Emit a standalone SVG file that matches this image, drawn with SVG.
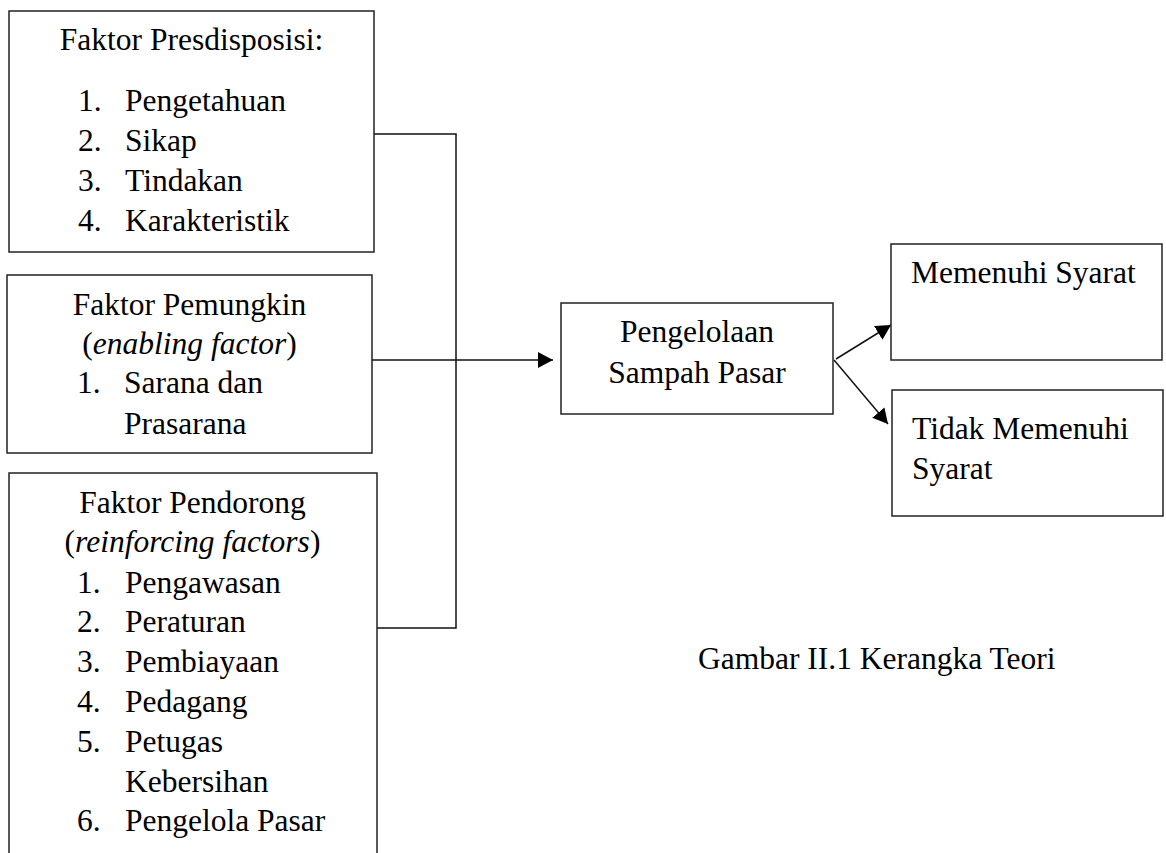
<svg xmlns="http://www.w3.org/2000/svg" width="1166" height="853" viewBox="0 0 1166 853">
<style>
  .box { fill: #ffffff; stroke: #222222; stroke-width: 1.5; }
  .t { font-family: "Liberation Serif", "Times New Roman", serif; font-size: 31.5px; fill: #000000; }
  .c { text-anchor: middle; }
  .i { font-style: italic; }
  .ln { fill: none; stroke: #111111; stroke-width: 1.5; }
</style>
<defs>
  <marker id="arr" markerUnits="userSpaceOnUse" markerWidth="16" markerHeight="16" refX="15" refY="8" orient="auto">
    <path d="M0,0 L15,8 L0,16 z" fill="#000000"/>
  </marker>
</defs>
<rect width="1166" height="853" fill="#ffffff"/>

<g id="connectors">
  <path class="ln" d="M374,134 H456 V628 H377"/>
  <path class="ln" d="M372,360 H553" marker-end="url(#arr)"/>
  <path class="ln" d="M836,359 L891,325" marker-end="url(#arr)"/>
  <path class="ln" d="M834,360 L888,424" marker-end="url(#arr)"/>
</g>

<g id="predisposisi">
  <rect class="box" x="9" y="11" width="365" height="241"/>
  <text class="t c" x="191.5" y="50">Faktor Presdisposisi:</text>
  <text class="t" x="78" y="111">1.</text><text class="t" x="125" y="111">Pengetahuan</text>
  <text class="t" x="78" y="151">2.</text><text class="t" x="125" y="151">Sikap</text>
  <text class="t" x="78" y="191">3.</text><text class="t" x="125" y="191">Tindakan</text>
  <text class="t" x="78" y="231">4.</text><text class="t" x="125" y="231">Karakteristik</text>
</g>

<g id="pemungkin">
  <rect class="box" x="7" y="275" width="365" height="178"/>
  <text class="t c" x="189.5" y="315">Faktor Pemungkin</text>
  <text class="t c" x="189.5" y="354">(<tspan class="i">enabling factor</tspan>)</text>
  <text class="t" x="77" y="393">1.</text><text class="t" x="124" y="393">Sarana dan</text>
  <text class="t" x="124" y="434">Prasarana</text>
</g>

<g id="pendorong">
  <rect class="box" x="9" y="473" width="368" height="420"/>
  <text class="t c" x="192.5" y="513">Faktor Pendorong</text>
  <text class="t c" x="192.5" y="552">(<tspan class="i">reinforcing factors</tspan>)</text>
  <text class="t" x="77" y="593">1.</text><text class="t" x="125" y="593">Pengawasan</text>
  <text class="t" x="77" y="632">2.</text><text class="t" x="125" y="632">Peraturan</text>
  <text class="t" x="77" y="672">3.</text><text class="t" x="125" y="672">Pembiayaan</text>
  <text class="t" x="77" y="712">4.</text><text class="t" x="125" y="712">Pedagang</text>
  <text class="t" x="77" y="752">5.</text><text class="t" x="125" y="752">Petugas</text>
  <text class="t" x="125" y="792">Kebersihan</text>
  <text class="t" x="77" y="831">6.</text><text class="t" x="125" y="831">Pengelola Pasar</text>
</g>

<g id="pengelolaan">
  <rect class="box" x="561" y="303" width="272" height="111"/>
  <text class="t c" x="697" y="342">Pengelolaan</text>
  <text class="t c" x="697" y="383">Sampah Pasar</text>
</g>

<g id="memenuhi">
  <rect class="box" x="891" y="244" width="271" height="116"/>
  <text class="t" x="911" y="283">Memenuhi Syarat</text>
</g>

<g id="tidak-memenuhi">
  <rect class="box" x="892" y="390" width="271" height="126"/>
  <text class="t" x="912" y="439">Tidak Memenuhi</text>
  <text class="t" x="912" y="479">Syarat</text>
</g>

<g id="caption">
  <text class="t" x="698" y="669">Gambar II.1 Kerangka Teori</text>
</g>
</svg>
